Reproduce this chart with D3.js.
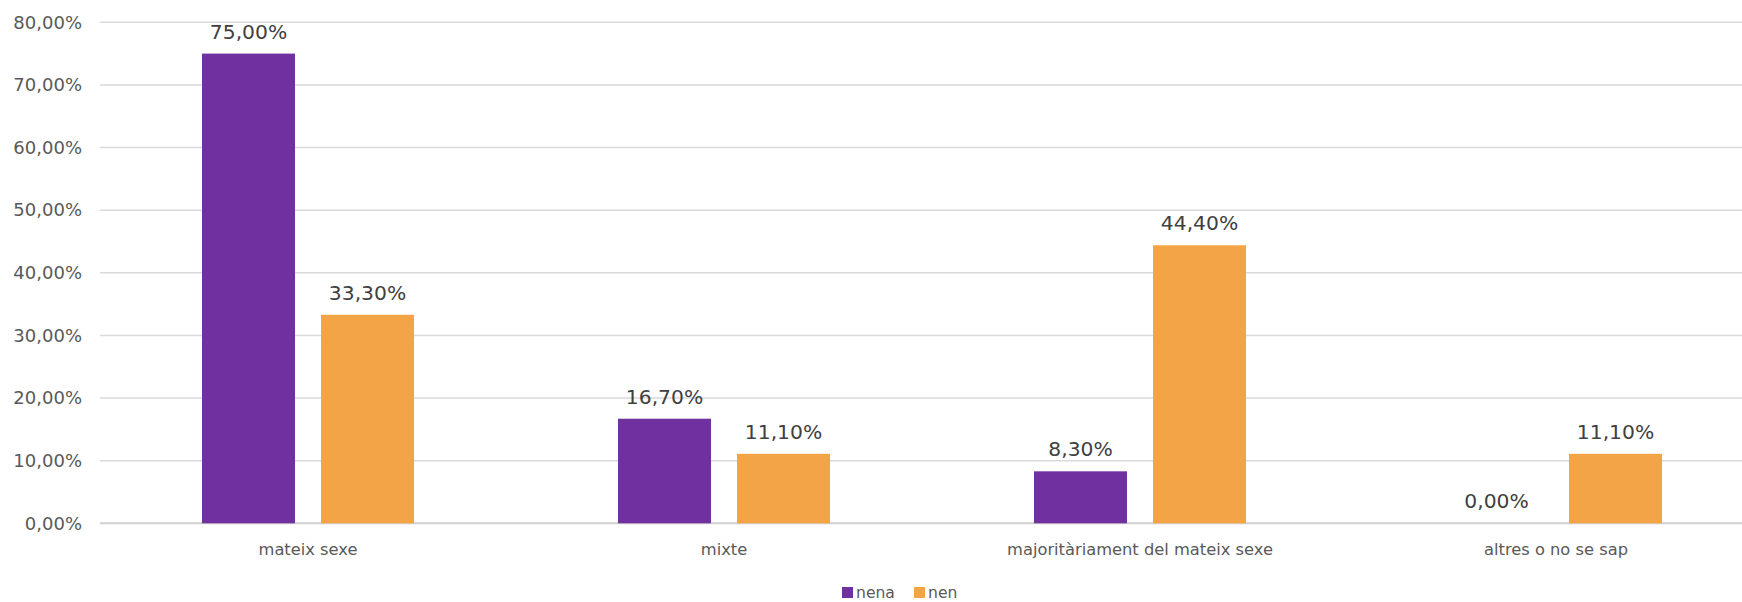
<!DOCTYPE html>
<html><head><meta charset="utf-8">
<script src="https://cdn.jsdelivr.net/npm/d3@7"></script>
<style>body{margin:0;background:#fff}svg{display:block}text{font-family:"DejaVu Sans",sans-serif}</style>
</head><body>
<svg id="c" width="1742" height="602"></svg>
<script>
const categories = ["mateix sexe","mixte","majoritàriament del mateix sexe","altres o no se sap"];
const series = ["nena","nen"];
const nena = [75.0, 16.7, 8.3, 0.0];
const nen = [33.3, 11.1, 44.4, 11.1];
const yTicks = [0,10,20,30,40,50,60,70,80];
const colors = {nena:"#7030A0", nen:"#F2A446"};
const values = {nena, nen};

const svg = d3.select("#c");
const plotLeft = 100, plotRight = 1764, plotTop = 22.3, plotBottom = 523.3;
const x0 = d3.scaleBand().domain(categories).range([plotLeft,plotRight]).paddingInner(0).paddingOuter(0);
const x1 = d3.scaleBand().domain(series).range([102, 314]).paddingInner(26/119).paddingOuter(0);
const y = d3.scaleLinear().domain([0,80]).range([plotBottom, plotTop]);
const fmt = v => v.toFixed(2).replace(".", ",") + "%";

// gridlines
svg.append("g").selectAll("line").data(yTicks).join("line")
  .attr("x1", plotLeft).attr("x2", 1742)
  .attr("y1", d => y(d)).attr("y2", d => y(d))
  .attr("stroke", d => d===0 ? "#d0d0d0" : "#d9d9d9")
  .attr("stroke-width", d => d===0 ? 2 : 1.5);

// y axis labels
const yAxis = d3.axisLeft(y).tickValues(yTicks).tickFormat(fmt).tickSize(0).tickPadding(0);
const ga = svg.append("g").attr("transform", `translate(82,0)`).call(yAxis);
ga.select(".domain").remove();
ga.selectAll("text").attr("font-size", 18).attr("fill", "#595959").attr("font-family", "DejaVu Sans, sans-serif");

// bars
const groups = svg.append("g").selectAll("g").data(categories).join("g")
  .attr("transform", d => `translate(${x0(d)},0)`);
series.forEach(s => {
  groups.append("rect")
    .attr("x", x1(s)).attr("width", x1.bandwidth())
    .attr("y", (d,i) => y(values[s][i]))
    .attr("height", (d,i) => plotBottom - y(values[s][i]))
    .attr("fill", colors[s]);
  groups.append("text")
    .attr("x", x1(s) + x1.bandwidth()/2)
    .attr("y", (d,i) => y(values[s][i]) - 15)
    .attr("text-anchor", "middle")
    .attr("font-size", 20.3).attr("fill", "#404040")
    .text((d,i) => fmt(values[s][i]));
});

// x labels
const xAxis = d3.axisBottom(x0).tickSize(0).tickPadding(0);
const gx = svg.append("g").attr("transform", `translate(0,${plotBottom})`).call(xAxis);
gx.select(".domain").remove();
gx.selectAll("text").attr("font-size", 16.3).attr("fill", "#595959").attr("font-family", "DejaVu Sans, sans-serif")
  .attr("dy", 0).attr("y", 32);

// legend
const legendX = [842, 914];
const lg = svg.append("g");
series.forEach((s,i) => {
  lg.append("rect").attr("x", legendX[i]).attr("y", 587).attr("width", 11).attr("height", 11).attr("fill", colors[s]);
  lg.append("text").attr("x", legendX[i] + 14).attr("y", 598).attr("font-size", 15.6).attr("fill", "#595959").text(s);
});
</script>
</body></html>
